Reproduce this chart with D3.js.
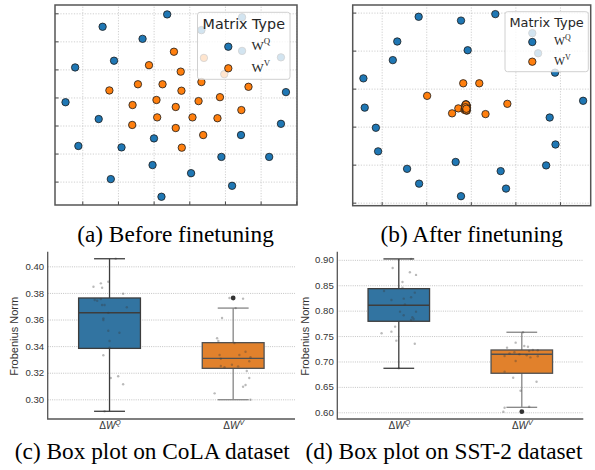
<!DOCTYPE html>
<html>
<head>
<meta charset="utf-8">
<script src="https://cdn.jsdelivr.net/npm/d3@7"></script>
<style>
  body { margin: 0; background: #fff; }
  svg { display: block; }
</style>
</head>
<body>
<svg id="fig" width="595" height="470"></svg>
<script>
// ---- data: (a) before finetuning, 2-D projection of the weight matrices ----
const beforeQx = [-0.62, -2.43, -1.31, -2.11, -3.20, 2.71, -3.47, -2.54, 2.57, -0.99, 1.45, -3.11,
                  -1.90, 0.90, 2.24, -1.03, 0.05, -2.20, 1.20, -0.78, 0.34, 1.48, 1.48, 2.57];
const beforeQy = [2.96, 2.52, 2.09, 1.31, 1.07, 0.19, -0.17, -0.77, -0.94, -1.46, -1.34, -1.73,
                  -1.78, -2.12, -2.12, -2.41, -2.70, -2.91, -3.15, -3.54, 2.40, 2.86, 1.66, 1.43];
const beforeVx = [-0.43, -1.13, -0.24, -2.24, -1.44, -0.75, -0.22, 0.34, 1.66, 0.86, -0.92, 0.26,
                  -1.59, -0.38, 1.46, -0.90, 0.09, 0.79, -1.60, -0.38, 0.39, -0.21, 0.41, 0.98];
const beforeVy = [1.63, 1.15, 0.92, 0.25, 0.47, 0.47, 0.24, 0.55, 0.38, 0.01, -0.09, -0.13,
                  -0.27, -0.34, -0.45, -0.71, -0.71, -0.74, -0.98, -1.09, -1.34, -1.79, 1.41, 0.83];

// ---- data: (b) after finetuning ----
const afterQx = [-1.17, -0.22, 0.55, -1.65, -0.07, -1.75, -2.41, 1.89, 2.52, -2.38, 1.77, -2.13,
                 1.90, -2.08, -0.34, 1.69, -1.43, 0.67, -1.16, 0.79, -0.22, 1.38, 1.51];
const afterQy = [2.89, 2.79, 2.96, 2.24, 2.01, 1.75, 1.27, 1.42, 0.68, 0.50, 0.24, -0.03,
                 -0.47, -0.65, -0.93, -1.02, -1.11, -1.17, -1.50, -1.63, -1.83, 2.46, 1.93];
const afterVx = [-0.17, 0.19, -0.98, 0.82, -0.28, -0.42, 0.33, -0.11, -0.09, -0.14, -0.09, -0.12,
                 -0.09, -0.13, -0.10, -0.11, -0.10, -0.12, -0.09, -0.13, -0.10, -0.11, -0.12, -0.10];
const afterVy = [1.14, 1.14, 0.81, 0.60, 0.48, 0.35, 0.33, 0.59, 0.55, 0.44, 0.42, 0.52,
                 0.53, 0.48, 0.45, 0.50, 0.57, 0.46, 0.49, 0.55, 0.43, 0.58, 0.51, 0.47];

const matrixTypes = ["Q", "V"];
const matrixColors = ["#1f77b4", "#ff7f0e"];

// ---- data: (c) CoLA box plot, [low whisker, Q1, median, Q3, high whisker] ----
const colaStatsQ = [0.291, 0.3383, 0.3651, 0.3762, 0.4057];
const colaStatsV = [0.2997, 0.3233, 0.3308, 0.3426, 0.3686];
const colaOutQ = [];
const colaOutV = [0.3762];
const colaDotsQ = [0.3847, 0.3872, 0.3839, 0.3884, 0.3794, 0.3747, 0.3741, 0.3754, 0.3709, 0.3709, 0.3692, 0.3609,
                   0.3596, 0.3516, 0.3501, 0.3438, 0.3388, 0.3331, 0.316, 0.3173, 0.3113, 0.291, 0.4057, 0.365];
const colaJitQ = [-0.13, -0.07, -0.06, -0.01, 0.11, -0.12, -0.10, -0.07, -0.06, -0.04, 0.14, -0.05,
                  -0.05, -0.01, 0.08, 0.0, 0.0, -0.05, 0.01, 0.07, 0.11, -0.04, 0.05, -0.01];
const colaDotsV = [0.3762, 0.3757, 0.3762, 0.3611, 0.3459, 0.3438, 0.3423, 0.3358, 0.3333, 0.3333, 0.3316, 0.3286,
                   0.3305, 0.326, 0.325, 0.3241, 0.3248, 0.3213, 0.316, 0.3108, 0.3095, 0.3045, 0.2997, 0.3686];
const colaJitV = [-0.03, 0.08, 0.0, -0.09, -0.13, -0.12, 0.01, 0.10, -0.11, 0.05, 0.14, 0.13,
                  -0.10, -0.01, -0.10, -0.07, 0.04, 0.11, 0.13, 0.10, 0.08, -0.15, 0.14, 0.02];
const colaTicks = [0.30, 0.32, 0.34, 0.36, 0.38, 0.40];

// ---- data: (d) SST-2 box plot ----
const sstStatsQ = [0.6866, 0.7791, 0.8106, 0.8433, 0.9018];
const sstStatsV = [0.6098, 0.6768, 0.7142, 0.7226, 0.7575];
const sstOutQ = [];
const sstOutV = [0.6012];
const sstDotsQ = [0.9018, 0.884, 0.8756, 0.8703, 0.8565, 0.8453, 0.8388, 0.8354, 0.8211, 0.8236, 0.8264, 0.798,
                  0.798, 0.7909, 0.787, 0.7837, 0.7817, 0.7685, 0.7587, 0.7555, 0.741, 0.735, 0.6866, 0.812];
const sstJitQ = [0.10, -0.05, 0.09, 0.14, 0.03, 0.03, -0.12, 0.13, -0.06, 0.04, 0.10, 0.01,
                 0.14, 0.04, 0.11, 0.12, 0.10, -0.03, -0.06, -0.14, -0.02, 0.13, 0.0, 0.05];
const sstDotsV = [0.7575, 0.737, 0.7305, 0.7272, 0.7207, 0.7226, 0.7181, 0.7142, 0.722, 0.7122, 0.7108, 0.7102,
                  0.701, 0.68, 0.6681, 0.6602, 0.6425, 0.611, 0.609, 0.6012, 0.6012, 0.729, 0.716, 0.708];
const sstJitV = [0.01, -0.05, 0.02, -0.12, 0.06, 0.09, -0.06, -0.02, 0.13, 0.04, -0.14, 0.13,
                 -0.05, -0.14, -0.07, 0.12, -0.01, 0.06, -0.14, -0.15, 0.01, 0.05, -0.10, 0.07];
const sstTicks = [0.60, 0.65, 0.70, 0.75, 0.80, 0.85, 0.90];

const boxFills = ["#3274a1", "#e1812c"];
const boxEdges = ["#3d3d3d", "#505050"];
const whiskerColors = ["#3d3d3d", "#858585"];

const captions = ["(a) Before finetuning", "(b) After finetuning",
                  "(c) Box plot on CoLA dataset", "(d) Box plot on SST-2 dataset"];

const svg = d3.select("#fig");
const SANS = "'DejaVu Sans', sans-serif";
const ARIAL = "'Liberation Sans', Arial, sans-serif";
const SERIF = "'Liberation Serif', 'Times New Roman', serif";

// scatter of the projected matrices, with a semi transparent legend on top
function drawScatter(p) {
  const g = svg.append("g");
  const x = d3.scaleLinear().domain(p.xDomain).range([p.left, p.right]);
  const y = d3.scaleLinear().domain(p.yDomain).range([p.bottom, p.top]);
  const w = p.right - p.left, h = p.bottom - p.top;

  // dotted grid
  const gx = g.append("g").attr("transform", `translate(0,${p.bottom})`)
    .call(d3.axisBottom(x).tickValues(p.xTicks).tickSize(-h).tickFormat(""));
  const gy = g.append("g").attr("transform", `translate(${p.left},0)`)
    .call(d3.axisLeft(y).tickValues(p.yTicks).tickSize(-w).tickFormat(""));
  [gx, gy].forEach(a => {
    a.select(".domain").remove();
    a.selectAll("line").attr("stroke", "#c4c4c4").attr("stroke-width", 0.8)
      .attr("stroke-dasharray", "1.2,1.5");
  });

  // short ticks pointing inwards
  const tx = g.append("g").attr("transform", `translate(0,${p.bottom})`)
    .call(d3.axisBottom(x).tickValues(p.xTicks).tickSize(-3.5).tickFormat(""));
  const ty = g.append("g").attr("transform", `translate(${p.left},0)`)
    .call(d3.axisLeft(y).tickValues(p.yTicks).tickSize(-3.5).tickFormat(""));
  [tx, ty].forEach(a => {
    a.select(".domain").remove();
    a.selectAll("line").attr("stroke", "#444").attr("stroke-width", 1);
  });

  p.series.forEach((s, i) => {
    g.append("g").selectAll("circle")
      .data(d3.zip(s[0], s[1]))
      .join("circle")
      .attr("cx", d => x(d[0]))
      .attr("cy", d => y(d[1]))
      .attr("r", 3.7)
      .attr("fill", matrixColors[i])
      .attr("stroke", "#1a1a1a")
      .attr("stroke-width", 0.8);
  });

  g.append("rect")
    .attr("x", p.left).attr("y", p.top).attr("width", w).attr("height", h)
    .attr("fill", "none").attr("stroke", "#555").attr("stroke-width", 1.5);

  // legend
  const L = p.legend;
  const lg = g.append("g");
  lg.append("rect")
    .attr("x", L.x).attr("y", L.y).attr("width", L.w).attr("height", L.h)
    .attr("rx", 2.5)
    .attr("fill", "#fff").attr("fill-opacity", 0.8)
    .attr("stroke", "#d0d0d0").attr("stroke-width", 1);
  lg.append("text")
    .attr("x", L.x + L.w / 2).attr("y", L.titleY)
    .attr("text-anchor", "middle")
    .attr("font-family", SANS).attr("font-size", L.titleSize).attr("fill", "#262626")
    .text("Matrix Type");
  matrixTypes.forEach((t, i) => {
    const cy = L.rowY[i];
    lg.append("circle")
      .attr("cx", L.handleX).attr("cy", cy).attr("r", 3.7)
      .attr("fill", matrixColors[i]).attr("stroke", "#1a1a1a").attr("stroke-width", 0.8);
    const label = lg.append("text")
      .attr("x", L.labelX).attr("y", cy + 3.2)
      .attr("font-family", SERIF).attr("font-size", L.labelSize).attr("fill", "#262626");
    label.append("tspan").text("W");
    label.append("tspan").attr("dy", -L.labelSize * 0.42).attr("font-size", L.labelSize * 0.68).text(t);
  });
}

// box plot with the single values strewn over it
function drawBox(p) {
  const g = svg.append("g");
  const x = d3.scalePoint().domain(matrixTypes).range([p.left, p.right]).padding(0.5);
  const step = x.step();
  const bw = step * 0.5;
  const y = d3.scaleLinear().domain(p.yDomain).range([p.bottom, p.top]);

  const ya = g.append("g").attr("transform", `translate(${p.left},0)`)
    .call(d3.axisLeft(y).tickValues(p.yTicks).tickFormat(d3.format(".2f"))
      .tickSize(-(p.right - p.left)).tickPadding(3.5));
  ya.select(".domain").remove();
  ya.selectAll("line").attr("stroke", "#b4b4b4").attr("stroke-width", 0.8)
    .attr("stroke-dasharray", "1,1.2");
  ya.selectAll("text").attr("font-family", ARIAL).attr("font-size", 9.6).attr("fill", "#333");

  // spines
  g.append("path")
    .attr("d", `M${p.left},${p.top}V${p.bottom}H${p.right}`)
    .attr("fill", "none").attr("stroke", "#555").attr("stroke-width", 1.3);

  // x tick labels
  const xa = g.append("g").attr("transform", `translate(0,${p.bottom})`)
    .call(d3.axisBottom(x).tickSize(0).tickPadding(3));
  xa.select(".domain").remove();
  xa.selectAll("text").each(function (d) {
    const t = d3.select(this).text("")
      .attr("font-family", ARIAL).attr("font-size", 10).attr("fill", "#333");
    t.append("tspan").text("Δ");
    t.append("tspan").attr("font-style", "italic").text("W");
    t.append("tspan").attr("font-style", "italic").attr("font-size", 7).attr("dy", -4).text(d);
  });

  g.append("text")
    .attr("transform", `translate(${p.labelX},${(p.top + p.bottom) / 2 + 1}) rotate(-90)`)
    .attr("text-anchor", "middle")
    .attr("font-family", ARIAL).attr("font-size", 11).attr("fill", "#333")
    .text("Frobenius Norm");

  matrixTypes.forEach((cat, i) => {
    const s = p.stats[i];
    const cx = x(cat);
    const wc = whiskerColors[i];
    const bg = g.append("g");
    bg.append("line").attr("x1", cx).attr("x2", cx).attr("y1", y(s[0])).attr("y2", y(s[1]))
      .attr("stroke", wc).attr("stroke-width", 1.3);
    bg.append("line").attr("x1", cx).attr("x2", cx).attr("y1", y(s[3])).attr("y2", y(s[4]))
      .attr("stroke", wc).attr("stroke-width", 1.3);
    [s[0], s[4]].forEach(v => {
      bg.append("line").attr("x1", cx - bw / 4).attr("x2", cx + bw / 4).attr("y1", y(v)).attr("y2", y(v))
        .attr("stroke", wc).attr("stroke-width", 1.3);
    });
    bg.append("rect")
      .attr("x", cx - bw / 2).attr("width", bw)
      .attr("y", y(s[3])).attr("height", y(s[1]) - y(s[3]))
      .attr("fill", boxFills[i]).attr("stroke", boxEdges[i]).attr("stroke-width", 1.3);
    bg.append("line").attr("x1", cx - bw / 2).attr("x2", cx + bw / 2).attr("y1", y(s[2])).attr("y2", y(s[2]))
      .attr("stroke", boxEdges[i]).attr("stroke-width", 1.3);
    bg.selectAll("circle.flier").data(p.outliers[i]).join("circle")
      .attr("class", "flier")
      .attr("cx", cx).attr("cy", d => y(d)).attr("r", 2.4)
      .attr("fill", "#333");

    g.append("g").selectAll("circle")
      .data(d3.zip(p.dots[i], p.jitter[i]))
      .join("circle")
      .attr("cx", d => cx + d[1] * step)
      .attr("cy", d => y(d[0]))
      .attr("r", 1.2)
      .attr("fill", "#3a3a3a")
      .attr("fill-opacity", 0.35);
  });
}

drawScatter({
  left: 55, right: 297, top: 5, bottom: 205,
  xDomain: [-3.765, 3.02], yDomain: [-3.834, 3.296],
  xTicks: d3.range(-3, 4), yTicks: d3.range(-3, 4),
  series: [[beforeQx, beforeQy], [beforeVx, beforeVy]],
  legend: { x: 197.5, y: 12.3, w: 92.5, h: 67, titleY: 29.3, titleSize: 14.3,
            handleX: 228.3, rowY: [46.7, 68.3], labelX: 251.5, labelSize: 13 }
});

drawScatter({
  left: 352.7, right: 590.7, top: 5, bottom: 205.7,
  xDomain: [-2.65, 2.69], yDomain: [-2.08, 3.2],
  xTicks: d3.range(-2, 3), yTicks: d3.range(-2, 4),
  series: [[afterQx, afterQy], [afterVx, afterVy]],
  legend: { x: 505, y: 11.7, w: 83.3, h: 60, titleY: 26.6, titleSize: 12.9,
            handleX: 532.3, rowY: [42, 61.7], labelX: 554, labelSize: 11.7 }
});

drawBox({
  left: 47.7, right: 295, top: 251.7, bottom: 419, labelX: 18,
  yDomain: [0.2852, 0.411], yTicks: colaTicks,
  stats: [colaStatsQ, colaStatsV], outliers: [colaOutQ, colaOutV],
  dots: [colaDotsQ, colaDotsV], jitter: [colaJitQ, colaJitV]
});

drawBox({
  left: 337.3, right: 583.3, top: 251.7, bottom: 419, labelX: 308.5,
  yDomain: [0.5868, 0.916], yTicks: sstTicks,
  stats: [sstStatsQ, sstStatsV], outliers: [sstOutQ, sstOutV],
  dots: [sstDotsQ, sstDotsV], jitter: [sstJitQ, sstJitV]
});

// sub-figure captions
const capPos = [[175.5, 242], [471.7, 242], [152.3, 459.3], [444, 459.3]];
svg.append("g").selectAll("text")
  .data(captions)
  .join("text")
  .attr("x", (d, i) => capPos[i][0])
  .attr("y", (d, i) => capPos[i][1])
  .attr("text-anchor", "middle")
  .attr("font-family", SERIF)
  .attr("font-size", 23.3)
  .attr("fill", "#000")
  .text(d => d);
</script>
</body>
</html>
